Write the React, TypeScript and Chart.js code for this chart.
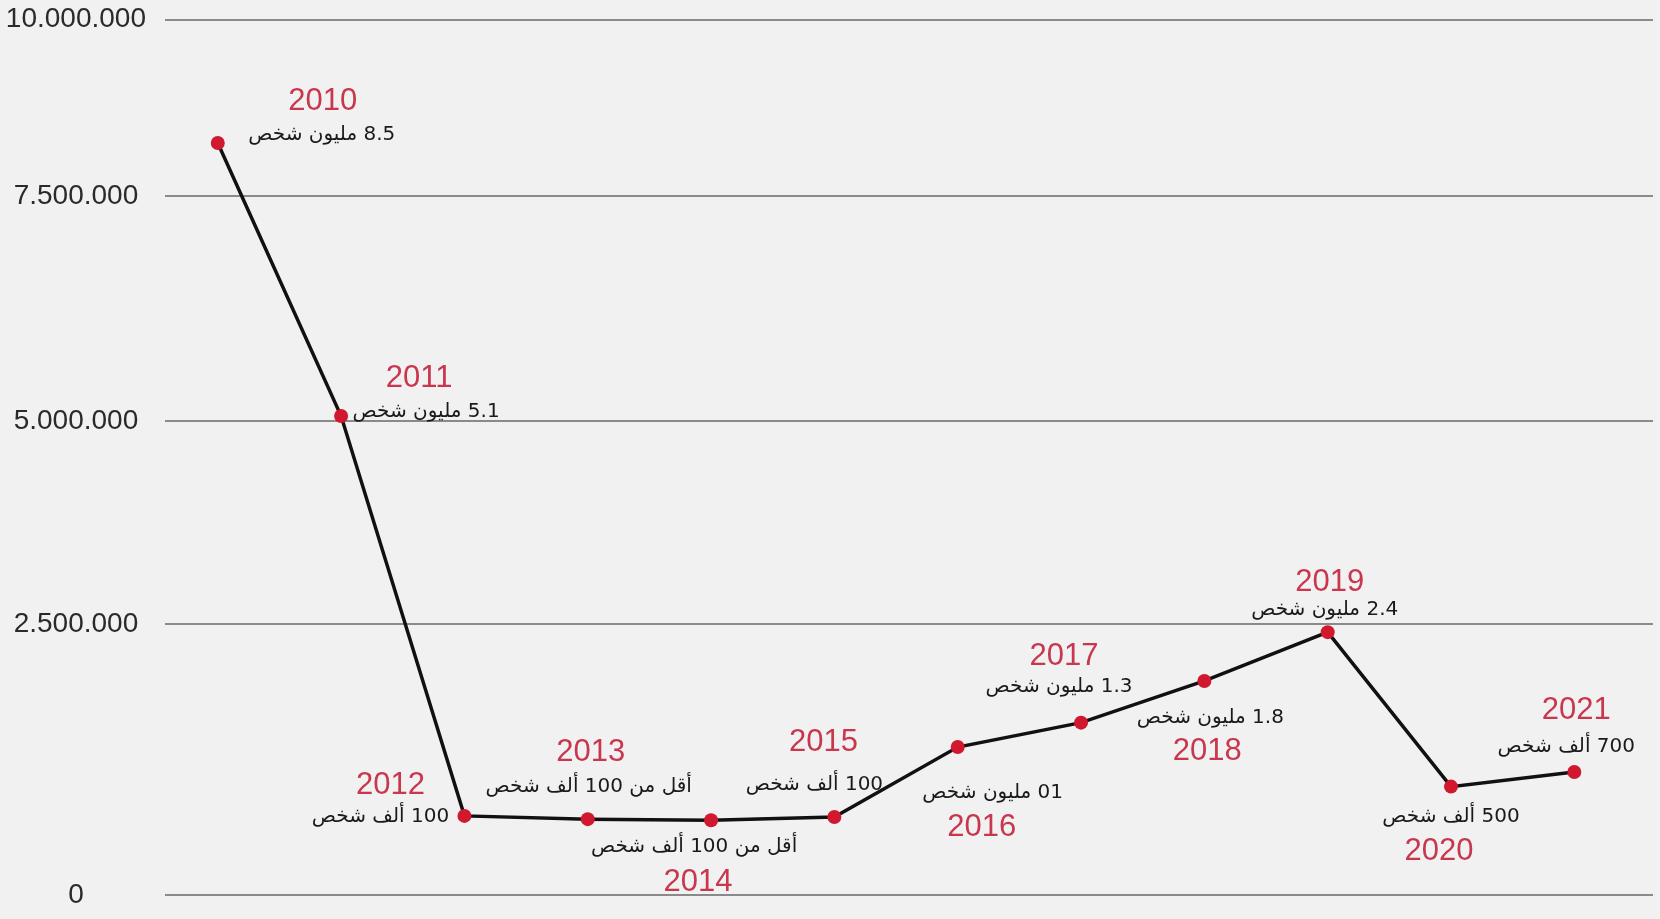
import { useEffect, useRef } from 'react';
import { Chart, LinearScale, registerables } from 'chart.js';

// ---------- data ----------
const YEARS = [2010, 2011, 2012, 2013, 2014, 2015, 2016, 2017, 2018, 2019, 2020, 2021];
const YEAR_LABELS = ['2010', '2011', '2012', '2013', '2014', '2015', '2016', '2017', '2018', '2019', '2020', '2021'];
const VALUES = [8250000, 5055000, 730000, 700000, 690000, 720000, 1365000, 1590000, 1975000, 2425000, 1000000, 1135000];
const VALUE_LABELS = [
  '8.5 مليون شخص',
  '5.1 مليون شخص',
  '100 ألف شخص',
  'أقل من 100 ألف شخص',
  'أقل من 100 ألف شخص',
  '100 ألف شخص',
  '01 مليون شخص',
  '1.3 مليون شخص',
  '1.8 مليون شخص',
  '2.4 مليون شخص',
  '500 ألف شخص',
  '700 ألف شخص',
];
const TICK_VALUES = [0, 2500000, 5000000, 7500000, 10000000];
const TICK_LABELS = ['0', '2.500.000', '5.000.000', '7.500.000', '10.000.000'];

// ---------- layout / style ----------
// where each tick sits, as a fraction of the plot height (the source axis is not evenly spaced)
const GRID_FRACTIONS = [0, 0.3095, 0.5414, 0.7984, 1];
// [value dx, value dy, year dx, year dy] relative to each point
const LABEL_OFFSETS: number[][] = [
  [104, -8, 105, -42],
  [85, -4, 78, -38],
  [-84, 1, -74, -30],
  [1, -32, 3, -67],
  [-17, 27, -13, 62],
  [-20, -32, -11, -75],
  [35, 46, 24, 80],
  [-22, -36, -17, -66],
  [6, 37, 3, 71],
  [-3, -22, 2, -50],
  [0, 30, -12, 65],
  [-8, -25, 2, -62],
];
const BG = '#f1f1f1';
const YEAR_COLOR = '#c8374d';
const VALUE_COLOR = '#1a1a1a';
const POINT_COLOR = '#d0192f';

function valueToFraction(value: number): number {
  const n = TICK_VALUES.length;
  if (value <= TICK_VALUES[0]) {
    return GRID_FRACTIONS[0] + ((value - TICK_VALUES[0]) / (TICK_VALUES[1] - TICK_VALUES[0])) * (GRID_FRACTIONS[1] - GRID_FRACTIONS[0]);
  }
  for (let i = 0; i < n - 1; i++) {
    const a = TICK_VALUES[i];
    const b = TICK_VALUES[i + 1];
    if (value <= b || i === n - 2) {
      return GRID_FRACTIONS[i] + ((value - a) / (b - a)) * (GRID_FRACTIONS[i + 1] - GRID_FRACTIONS[i]);
    }
  }
  return 1;
}

function fractionToValue(f: number): number {
  const n = GRID_FRACTIONS.length;
  for (let i = 0; i < n - 1; i++) {
    const a = GRID_FRACTIONS[i];
    const b = GRID_FRACTIONS[i + 1];
    if (f <= b || i === n - 2) {
      return TICK_VALUES[i] + ((f - a) / (b - a)) * (TICK_VALUES[i + 1] - TICK_VALUES[i]);
    }
  }
  return TICK_VALUES[n - 1];
}

class PiecewiseScale extends LinearScale {
  static id = 'piecewise';
  static defaults = LinearScale.defaults;
  getPixelForValue(value: any) {
    if (value === null || value === undefined || isNaN(value)) return NaN;
    return (this as any).getPixelForDecimal(valueToFraction(+value));
  }
  getValueForPixel(pixel: number) {
    return fractionToValue((this as any).getDecimalForPixel(pixel));
  }
  _calculatePadding(...args: any[]) {
    // @ts-ignore
    super._calculatePadding(...args);
    (this as any).paddingTop = 0;
    (this as any).paddingBottom = 0;
  }
}

Chart.register(...registerables, PiecewiseScale as any);

const backgroundPlugin = {
  id: 'paperBackground',
  beforeDraw(chart: any) {
    const { ctx, width, height } = chart;
    ctx.save();
    ctx.fillStyle = BG;
    ctx.fillRect(0, 0, width, height);
    ctx.restore();
  },
};

const labelPlugin = {
  id: 'pointLabels',
  afterDatasetsDraw(chart: any) {
    const ctx = chart.ctx as CanvasRenderingContext2D;
    const meta = chart.getDatasetMeta(0);
    ctx.save();
    ctx.textAlign = 'center';
    ctx.textBaseline = 'middle';
    meta.data.forEach((pt: any, i: number) => {
      const [vdx, vdy, ydx, ydy] = LABEL_OFFSETS[i];
      (ctx as any).direction = 'rtl';
      ctx.font = '20px "DejaVu Sans", sans-serif';
      ctx.fillStyle = VALUE_COLOR;
      ctx.fillText(VALUE_LABELS[i], pt.x + vdx, pt.y + vdy);
      (ctx as any).direction = 'ltr';
      ctx.font = '31px "Liberation Sans", Arial, sans-serif';
      ctx.fillStyle = YEAR_COLOR;
      ctx.fillText(YEAR_LABELS[i], pt.x + ydx, pt.y + ydy);
    });
    ctx.restore();
  },
};

export default function App() {
  const canvasRef = useRef<HTMLCanvasElement | null>(null);

  useEffect(() => {
    document.body.style.margin = '0';
    document.body.style.background = BG;
    const canvas = canvasRef.current;
    if (!canvas) return;
    const chart = new Chart(canvas, {
      type: 'line',
      data: {
        datasets: [
          {
            data: YEARS.map((y, i) => ({ x: y, y: VALUES[i] })),
            borderColor: '#111111',
            borderWidth: 3.5,
            tension: 0,
            pointRadius: 7,
            pointHoverRadius: 7,
            pointBackgroundColor: POINT_COLOR,
            pointBorderWidth: 0,
            fill: false,
          },
        ],
      },
      options: {
        animation: false,
        responsive: true,
        maintainAspectRatio: false,
        layout: { padding: { top: 19.5, bottom: 24, left: 0, right: 0 } },
        plugins: {
          legend: { display: false },
          tooltip: { enabled: false },
        },
        events: [],
        scales: {
          x: {
            type: 'linear',
            min: 2009.572,
            max: 2021.638,
            display: false,
          },
          y: {
            type: 'piecewise' as any,
            min: 0,
            max: 10000000,
            afterBuildTicks: (scale: any) => {
              scale.ticks = TICK_VALUES.map((v) => ({ value: v }));
            },
            afterFit: (scale: any) => {
              scale.width = 165;
            },
            border: { display: false },
            grid: {
              color: '#8a8a8a',
              lineWidth: 2,
              drawTicks: false,
            },
            ticks: {
              crossAlign: 'center',
              padding: 19,
              color: '#2a2a2a',
              font: { family: '"Liberation Sans", Arial, sans-serif', size: 28 },
              callback: (_v: any, index: number) => TICK_LABELS[index],
            },
          } as any,
        },
      },
      plugins: [backgroundPlugin, labelPlugin],
    });
    return () => chart.destroy();
  }, []);

  return (
    <div style={{ width: '1660px', height: '919px', position: 'relative', background: BG }}>
      <canvas ref={canvasRef} />
    </div>
  );
}
